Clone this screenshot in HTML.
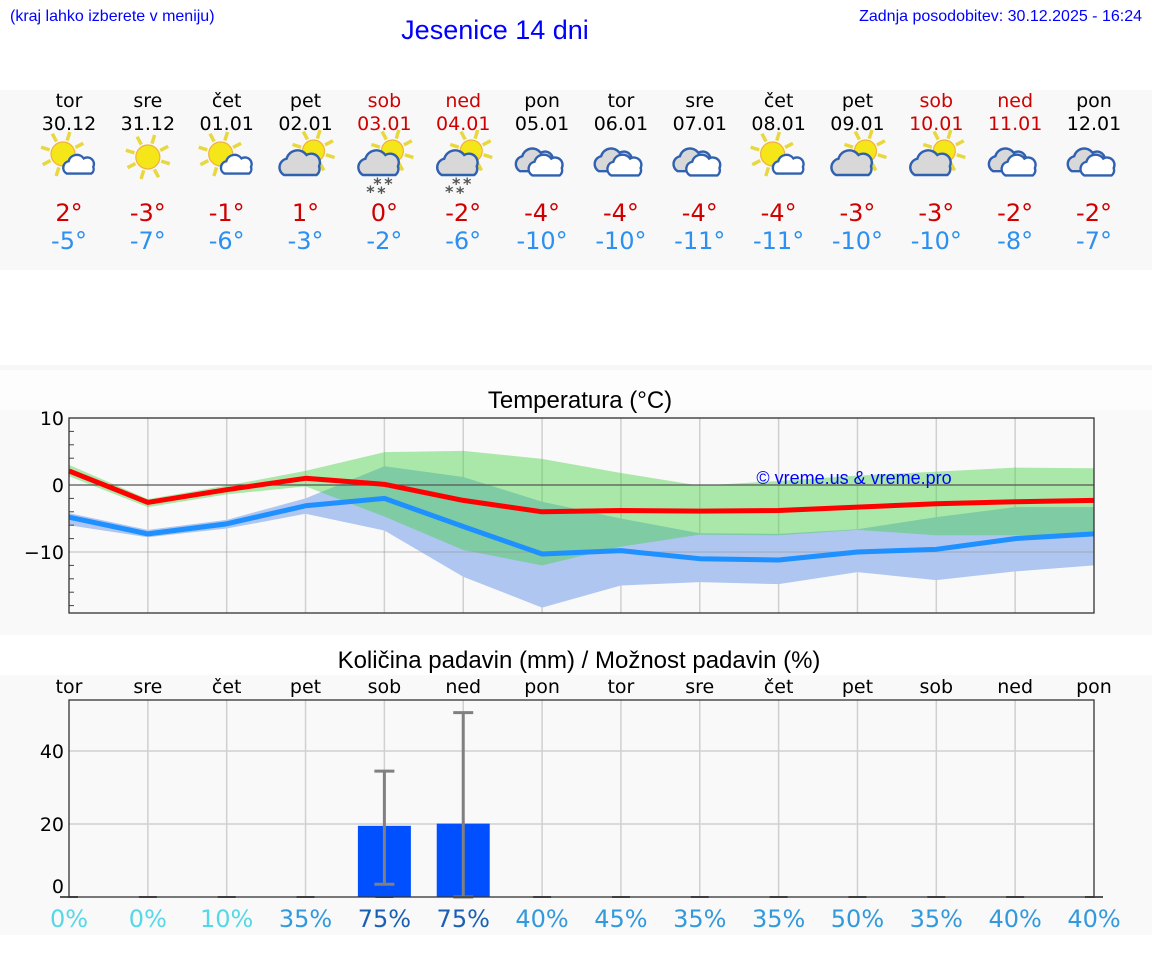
<!DOCTYPE html>
<html><head><meta charset="utf-8"><style>
body{margin:0;background:#fff;width:1152px;height:975px;overflow:hidden}
svg{display:block}
text{font-family:"DejaVu Sans","Liberation Sans",sans-serif}
</style></head><body>
<svg id="s" width="1152" height="975" xmlns="http://www.w3.org/2000/svg">
<rect x="0" y="90" width="1152" height="180" fill="#f8f8f8"/>
<rect x="0" y="365" width="1152" height="5" fill="#f7f7f7"/>
<rect x="0" y="370" width="1152" height="40" fill="#fdfdfd"/>
<rect x="0" y="410" width="1152" height="225" fill="#f9f9f9"/>
<rect x="0" y="675" width="1152" height="260" fill="#f9f9f9"/>
<text x="10" y="21" font-size="16" fill="#0000ff" style="font-family:'Liberation Sans',sans-serif">(kraj lahko izberete v meniju)</text>
<text x="495" y="39" font-size="27" fill="#0000ff" text-anchor="middle" style="font-family:'Liberation Sans',sans-serif">Jesenice 14 dni</text>
<text x="1142" y="21" font-size="16" fill="#0000ff" text-anchor="end" style="font-family:'Liberation Sans',sans-serif">Zadnja posodobitev: 30.12.2025 - 16:24</text>
<text x="580" y="408" font-size="24" text-anchor="middle" fill="#000" style="font-family:'Liberation Sans',sans-serif">Temperatura (°C)</text>
<text x="579" y="668" font-size="24" text-anchor="middle" fill="#000" style="font-family:'Liberation Sans',sans-serif">Količina padavin (mm) / Možnost padavin (%)</text>
<g id="topg"></g><g id="temp"></g><g id="prec"></g>
</svg>
<script>
const days=["tor","sre","čet","pet","sob","ned","pon","tor","sre","čet","pet","sob","ned","pon"];
const dates=["30.12","31.12","01.01","02.01","03.01","04.01","05.01","06.01","07.01","08.01","09.01","10.01","11.01","12.01"];
const weekend=[0,0,0,0,1,1,0,0,0,0,0,1,1,0];
const icons=["sunc","sun","sunc","csun","snow","snow","cl","cl","cl","sunc","csun","csun","cl","cl"];
const tmax=[2.1,-2.6,-0.7,1.0,0.1,-2.3,-4.0,-3.8,-3.9,-3.8,-3.3,-2.8,-2.5,-2.3];
const tmin=[-4.8,-7.3,-5.8,-3.1,-2.0,-6.2,-10.3,-9.8,-11.0,-11.2,-10.0,-9.6,-8.0,-7.3];
const maxHi=[3.0,-2.1,-0.1,2.1,4.9,5.1,3.9,1.8,-0.1,0.6,1.4,2.0,2.6,2.5];
const maxLo=[1.3,-3.3,-1.4,-0.2,-4.7,-9.7,-12.0,-9.2,-7.4,-7.5,-6.7,-7.5,-7.5,-7.5];
const minHi=[-4.2,-6.7,-5.2,-2.0,2.8,1.2,-2.5,-5.0,-7.2,-7.3,-6.6,-4.8,-3.3,-3.3];
const minLo=[-6.0,-7.8,-6.5,-4.3,-6.8,-13.7,-18.3,-15.0,-14.5,-14.8,-13.0,-14.2,-12.9,-12.0];
const tempTicks=[10,0,-10];
const precip=[0,0,0,0,19.5,20.1,0,0,0,0,0,0,0,0];
const errLo=[0,0,0,0,3.5,0,0,0,0,0,0,0,0,0];
const errHi=[0,0,0,0,34.5,50.5,0,0,0,0,0,0,0,0];
const chance=[0,0,10,35,75,75,40,45,35,35,50,35,40,40];
const precTicks=[40,20,0];
const NS="http://www.w3.org/2000/svg";
function mk(p,t,a){const e=document.createElementNS(NS,t);for(const k in a)e.setAttribute(k,a[k]);p.appendChild(e);return e;}
const X=i=>69+i*(1025/13);
const TY=v=>485-v*6.7;
const PY=v=>897-v*3.65;
const topG=document.getElementById('topg'),tg=document.getElementById('temp'),pg=document.getElementById('prec');
function sun(g,cx,cy,r){
  for(let k=0;k<8;k++){const a=k*Math.PI/4+0.3;
    const l=mk(g,'line',{x1:cx+Math.cos(a)*(r+2),y1:cy+Math.sin(a)*(r+2),x2:cx+Math.cos(a)*(r+11),y2:cy+Math.sin(a)*(r+11),stroke:'#e8d840','stroke-width':3.5});
    
    }
  const c=mk(g,'circle',{cx:cx,cy:cy,r:r,fill:'#f5e61a',stroke:'#f0b040','stroke-width':1.2});
  
  
}
function cloud(g,cx,cy,s,fill){
  const P=(a,b)=>(cx+a*s)+','+(cy+b*s);
  const d=`M${P(-14,8)} A${7*s} ${7*s} 0 0 1 ${P(-12,-5)} A${9*s} ${9*s} 0 0 1 ${P(4,-8)} A${7*s} ${7*s} 0 0 1 ${P(14,1)} A${6*s} ${6*s} 0 0 1 ${P(12,8)} Z`;
  const p=mk(g,'path',{d:d,fill:fill,stroke:'#3060b0','stroke-width':2.4});
  
  
}
for(let i=0;i<14;i++){
  const x=X(i),col=weekend[i]?'#d00000':'#000';
  let t=mk(topG,'text',{x:x,y:107,'font-size':19,'text-anchor':'middle',fill:col});t.textContent=days[i];
  
  
  t=mk(topG,'text',{x:x,y:130,'font-size':19,'text-anchor':'middle',fill:col});t.textContent=dates[i];
  
  
  const g=mk(topG,'g',{});
  
  
  const ic=icons[i];
  if(ic==='sun'){sun(g,x,157,12);}
  else if(ic==='sunc'){sun(g,x-6,154,12);cloud(g,x+11,166,0.95,'#fff');}
  else if(ic==='csun'||ic==='snow'){sun(g,x+8,151,11);cloud(g,x-4,165,1.25,'#d8d8d8');
    if(ic==='snow'){for(const [dx,dy] of [[-7,183],[4,183],[-14,191],[-3,192]]){const s=mk(g,'text',{x:x+dx,y:dy+6,'font-size':16,'font-weight':'bold',fill:'#555','text-anchor':'middle'});s.textContent='*';
      
      }}}
  else {cloud(g,x-6,162,1.15,'#d8d8d8');cloud(g,x+5,167,1.05,'#fff');}
  t=mk(topG,'text',{x:x,y:221,'font-size':24,'text-anchor':'middle',fill:'#d00000'});t.textContent=Math.round(tmax[i])+'°';
  
  
  t=mk(topG,'text',{x:x,y:249,'font-size':24,'text-anchor':'middle',fill:'#2b90f0'});t.textContent=Math.round(tmin[i])+'°';
  
  
}
// temperature chart
for(let i=1;i<13;i++){const l=mk(tg,'line',{x1:X(i),x2:X(i),y1:418,y2:613,stroke:'#d0d0d0','stroke-width':1.5});
  
  }
function band(hi,lo,fill,name){let d='';hi.forEach((v,i)=>d+=(i?'L':'M')+X(i)+','+TY(v));for(let i=lo.length-1;i>=0;i--)d+='L'+X(i)+','+TY(lo[i]);
  const p=mk(tg,'path',{d:d+'Z',fill:fill});
  
  }
band(minHi,minLo,'#aec6f0','min-temp-band');
band(maxHi,maxLo,'rgba(60,210,60,0.42)','max-temp-band');
tempTicks.forEach(v=>{const l=mk(tg,'line',{x1:69,x2:1094,y1:TY(v),y2:TY(v),stroke:v===0?'#555':'rgba(150,150,150,0.5)','stroke-width':1.3});
  
  
  const t=mk(tg,'text',{x:64,y:TY(v)+7,'font-size':19,'text-anchor':'end'});t.textContent=v<0?'−'+(-v):v;
  
  });
for(let v=8;v>=-18;v-=2){if(v%10===0)continue;const l=mk(tg,'line',{x1:69,x2:74,y1:TY(v),y2:TY(v),stroke:'#444','stroke-width':1});
  
  }
function line(arr,col,name){const p=mk(tg,'polyline',{points:arr.map((v,i)=>X(i)+','+TY(v)).join(' '),fill:'none',stroke:col,'stroke-width':5,'stroke-linejoin':'round'});
  
  }
line(tmin,'#1e90ff','min-temp-line');line(tmax,'#ff0000','max-temp-line');
let r=mk(tg,'rect',{x:69,y:418,width:1025,height:195,fill:'none',stroke:'#333','stroke-width':1.3});


let w=mk(tg,'text',{x:854,y:484,'font-size':18,'text-anchor':'middle',fill:'#0000ff',style:"font-family:'Liberation Sans',sans-serif"});w.textContent='© vreme.us & vreme.pro';


// precip chart
for(let i=1;i<13;i++){const l=mk(pg,'line',{x1:X(i),x2:X(i),y1:700,y2:897,stroke:'#d0d0d0','stroke-width':1.5});
  
  }
precTicks.forEach(v=>{if(v>0){const l=mk(pg,'line',{x1:69,x2:1094,y1:PY(v),y2:PY(v),stroke:'#d0d0d0','stroke-width':1.5});
  
  }
  const t=mk(pg,'text',{x:64,y:PY(v)+(v?7:-4),'font-size':19,'text-anchor':'end'});t.textContent=v;
  
  });
const pctCol=c=>c<=10?'#55d8e6':c<75?'#3399dd':'#1a5fb4';
for(let i=0;i<14;i++){const x=X(i);
  let t=mk(pg,'text',{x:x,y:693,'font-size':19,'text-anchor':'middle'});t.textContent=days[i];
  
  
  const z=mk(pg,'line',{x1:x-9,x2:x+9,y1:897,y2:897,stroke:'#555','stroke-width':2});
  
  
  if(precip[i]>0){const b=mk(pg,'rect',{x:x-26.5,y:PY(precip[i]),width:53,height:PY(0)-PY(precip[i]),fill:'#0050ff'});
    
    }
  if(errHi[i]>0){const e=mk(pg,'path',{d:`M${x},${PY(errLo[i])}V${PY(errHi[i])}M${x-10},${PY(errHi[i])}H${x+10}M${x-10},${PY(errLo[i])}H${x+10}`,stroke:'#808080','stroke-width':3,fill:'none'});
    
    }
  t=mk(pg,'text',{x:x,y:927,'font-size':24,'text-anchor':'middle',fill:pctCol(chance[i])});t.textContent=chance[i]+'%';
  
  
}
r=mk(pg,'rect',{x:69,y:700,width:1025,height:197,fill:'none',stroke:'#333','stroke-width':1.3});


</script>
</body></html>
